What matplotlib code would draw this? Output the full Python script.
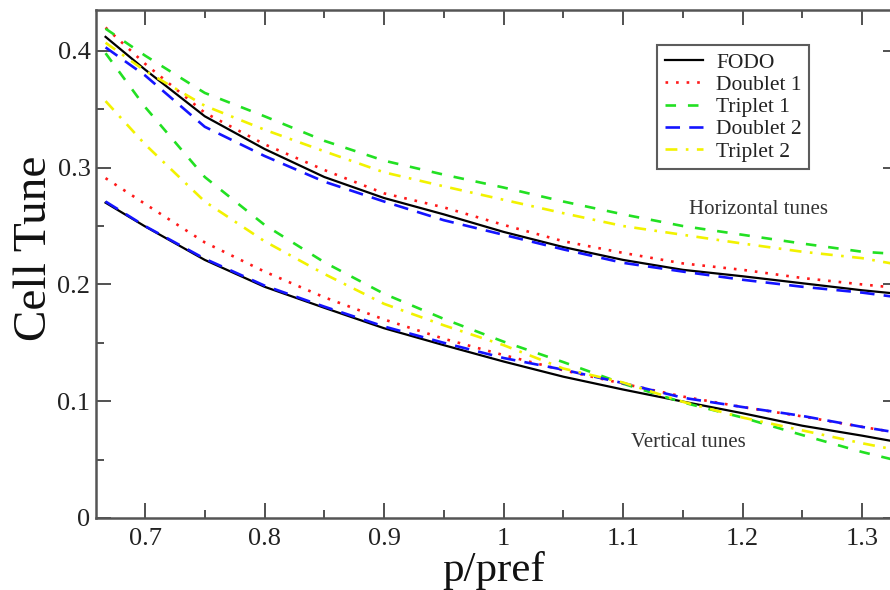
import matplotlib
matplotlib.use("Agg")
import matplotlib.pyplot as plt

plt.rcParams['font.family'] = ['Liberation Serif', 'DejaVu Serif']

# ---- data ----
p = [0.667, 0.7, 0.75, 0.8, 0.85, 0.9, 0.95, 1.0, 1.05, 1.1, 1.15, 1.2, 1.25, 1.3, 1.33]

fodo_h     = [0.412, 0.384, 0.344, 0.316, 0.292, 0.274, 0.260, 0.245, 0.232, 0.221, 0.2125, 0.207, 0.201, 0.195, 0.192]
doublet1_h = [0.420, 0.389, 0.347, 0.320, 0.298, 0.278, 0.266, 0.251, 0.237, 0.227, 0.218, 0.2125, 0.2055, 0.200, 0.197]
triplet1_h = [0.419, 0.396, 0.364, 0.344, 0.323, 0.306, 0.294, 0.283, 0.271, 0.260, 0.250, 0.2425, 0.235, 0.228, 0.226]
doublet2_h = [0.403, 0.379, 0.335, 0.310, 0.288, 0.271, 0.255, 0.2425, 0.230, 0.2185, 0.211, 0.204, 0.198, 0.193, 0.189]
triplet2_h = [0.407, 0.383, 0.353, 0.3325, 0.314, 0.296, 0.284, 0.2725, 0.261, 0.250, 0.2425, 0.235, 0.228, 0.2225, 0.217]

fodo_v     = [0.270, 0.2497, 0.221, 0.198, 0.180, 0.1625, 0.148, 0.134, 0.121, 0.110, 0.0997, 0.0897, 0.079, 0.0705, 0.065]
doublet1_v = [0.291, 0.269, 0.236, 0.211, 0.189, 0.170, 0.1535, 0.1395, 0.1265, 0.115, 0.104, 0.095, 0.087, 0.078, 0.073]
triplet1_v = [0.398, 0.352, 0.292, 0.251, 0.219, 0.192, 0.1705, 0.151, 0.1335, 0.115, 0.099, 0.086, 0.071, 0.0565, 0.049]
doublet2_v = [0.271, 0.250, 0.222, 0.199, 0.181, 0.164, 0.150, 0.137, 0.127, 0.1155, 0.103, 0.095, 0.0874, 0.078, 0.073]
triplet2_v = [0.357, 0.320, 0.271, 0.237, 0.209, 0.1834, 0.165, 0.148, 0.128, 0.116, 0.0995, 0.086, 0.075, 0.064, 0.058]

labels = ["FODO", "Doublet 1", "Triplet 1", "Doublet 2", "Triplet 2"]
series_h = [fodo_h, doublet1_h, triplet1_h, doublet2_h, triplet2_h]
series_v = [fodo_v, doublet1_v, triplet1_v, doublet2_v, triplet2_v]

colors = ["black", "#ff1a1a", "#22e022", "#1414ff", "#f2f200"]
styles = ["-", (0, (1, 3)), (0, (4, 4.5)), (0, (5.5, 3.5)), (0, (4.5, 3.2, 1, 3.2))]
widths = [1.6, 1.9, 1.9, 1.9, 1.9]

fig = plt.figure(figsize=(8.9, 5.9), dpi=100)
ax = fig.add_axes([96 / 890, 72 / 590, 802 / 890, 508 / 590])

for lab, h, v, c, ls, lw in zip(labels, series_h, series_v, colors, styles, widths):
    ax.plot(p, h, color=c, linestyle=ls, linewidth=lw, label=lab)
    ax.plot(p, v, color=c, linestyle=ls, linewidth=lw)

ax.set_xlim(0.659, 1.33)
ax.set_ylim(0, 0.435)
ax.set_xticks([0.7, 0.8, 0.9, 1.0, 1.1, 1.2, 1.3])
ax.set_xticklabels(["0.7", "0.8", "0.9", "1", "1.1", "1.2", "1.3"])
ax.set_xticks([0.75, 0.85, 0.95, 1.05, 1.15, 1.25], minor=True)
ax.set_yticks([0, 0.1, 0.2, 0.3, 0.4])
ax.set_yticklabels(["0", "0.1", "0.2", "0.3", "0.4"])
ax.set_yticks([0.05, 0.15, 0.25, 0.35], minor=True)

ax.tick_params(which="both", direction="in", top=True, right=True, color="#333333")
ax.tick_params(which="major", length=11, width=1.2, labelsize=19, labelcolor="#222222")
ax.tick_params(which="minor", length=6, width=1.2)
ax.tick_params(axis="x", which="major", pad=7)
ax.tick_params(axis="y", which="major", pad=4)
for s in ax.spines.values():
    s.set_color("#555555")
    s.set_linewidth(1.8)

ax.set_xlabel("p/pref", fontsize=31, color="#111111")
ax.set_ylabel("Cell Tune", fontsize=34, color="#111111")
ax.xaxis.set_label_coords(0.496, -0.064)
ax.yaxis.set_label_coords(-0.050, 0.531)

ax.text(1.213, 0.264, "Horizontal tunes", fontsize=15, color="#333333", ha="center", va="center")
ax.text(1.155, 0.065, "Vertical tunes", fontsize=15, color="#333333", ha="center", va="center")

leg = ax.legend(loc="upper left", bbox_to_anchor=(0.6995, 0.931), fontsize=15.5,
                frameon=True, fancybox=False, handlelength=1.8, handletextpad=0.6,
                borderpad=0.35, labelspacing=0.1, borderaxespad=0)
leg.get_frame().set_edgecolor("#333333")
leg.get_frame().set_linewidth(1.5)
for t in leg.get_texts():
    t.set_color("#222222")

fig.savefig("out.png", dpi=100)
